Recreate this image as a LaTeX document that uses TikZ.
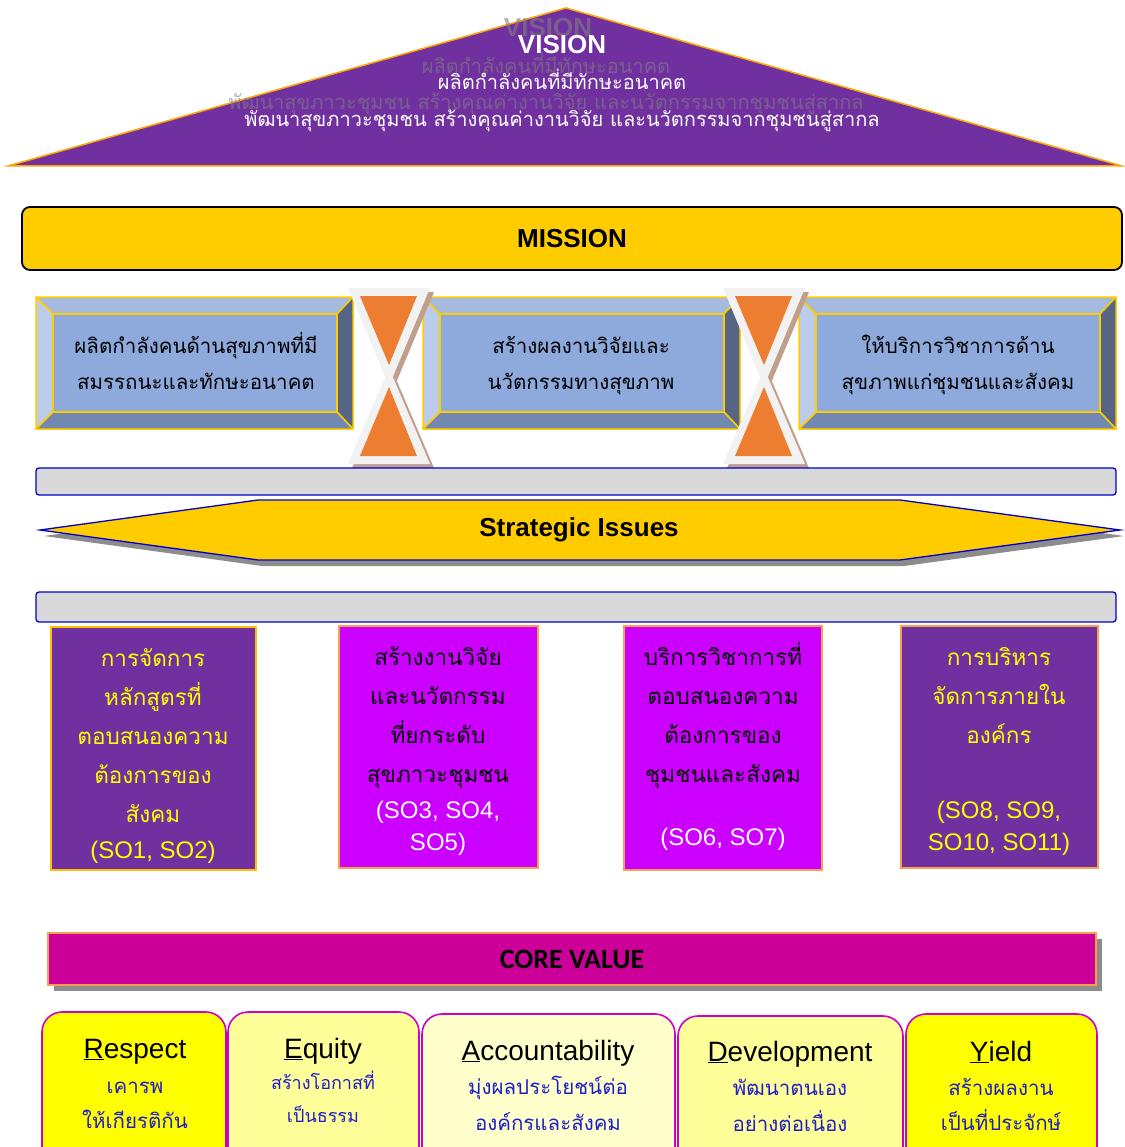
\documentclass[tikz,border=0pt]{standalone}
\usepackage{fontspec}
\setmainfont{Liberation Sans}
\newfontfamily\thaifont[Script=Thai]{Loma}
\newfontfamily\calfont{Carlito}

\definecolor{vispurple}{RGB}{112,48,160}
\definecolor{visorange}{RGB}{255,165,0}
\definecolor{misyellow}{RGB}{255,204,0}
\definecolor{bevtop}{RGB}{166,186,224}
\definecolor{bevleft}{RGB}{188,204,235}
\definecolor{bevright}{RGB}{86,101,132}
\definecolor{bevbottom}{RGB}{115,136,176}
\definecolor{bevface}{RGB}{142,169,219}
\definecolor{hgorange}{RGB}{237,125,49}
\definecolor{hgwhite}{RGB}{242,242,242}
\definecolor{hgshadow}{RGB}{192,160,140}
\definecolor{bargray}{RGB}{217,217,217}
\definecolor{barblue}{RGB}{0,0,204}
\definecolor{somagenta}{RGB}{204,0,255}
\definecolor{sogold}{RGB}{255,192,0}
\definecolor{soorange}{RGB}{248,160,80}
\definecolor{cvpink}{RGB}{204,0,153}
\definecolor{cvborder}{RGB}{204,0,204}
\definecolor{cvyellow}{RGB}{255,255,0}
\definecolor{cvlight}{RGB}{255,255,153}
\definecolor{cvpale}{RGB}{255,255,204}
\definecolor{cvblue}{RGB}{30,30,200}

\begin{document}
\begin{tikzpicture}[x=1pt,y=-1pt,
	txt/.style={anchor=base,inner sep=0pt},
	ghost/.style={txt,text=gray,text opacity=0.6},
	visthai/.style={txt,text=white,font=\thaifont\fontsize{20}{20}\selectfont},
	bigbold/.style={font=\bfseries\fontsize{26}{26}\selectfont},
	bevline/.style={draw=misyellow,line width=1.5pt,line join=round},
	misthai/.style={txt,font=\thaifont\fontsize{20.5}{20.5}\selectfont},
	bluebar/.style={rounded corners=3pt,fill=bargray,draw=barblue,line width=1.3pt},
	colthai/.style={txt,font=\thaifont\fontsize{22.5}{22.5}\selectfont},
	colso/.style={txt,font=\fontsize{24}{24}\selectfont},
	cvbox/.style={rounded corners=20pt,draw=cvborder,line width=1.6pt},
	cvhead/.style={txt,font=\fontsize{28}{28}\selectfont},
	cvthai/.style={txt,text=cvblue,font=\thaifont\fontsize{20.5}{20.5}\selectfont}
	]
	\useasboundingbox ( 0, 0 ) rectangle ( 1124, 1147 );

	% vision
	\draw [fill=vispurple,draw=visorange,line width=1.5pt] ( 8, 166 ) -- ( 566, 8 ) -- ( 1122, 166 ) -- cycle;
	\node [ghost,bigbold]	(visg) at ( 548, 37 )	{VISION};
	\node [ghost,font=\thaifont\fontsize{20}{20}\selectfont]	(vis1g) at ( 546, 74 )	{ผลิตกำลังคนที่มีทักษะอนาคต};
	\node [ghost,font=\thaifont\fontsize{20}{20}\selectfont]	(vis2g) at ( 546, 110 )	{พัฒนาสุขภาวะชุมชน สร้างคุณค่างานวิจัย และนวัตกรรมจากชุมชนสู่สากล};
	\node [txt,text=white,bigbold]	(vis) at ( 562, 54 )	{VISION};
	\node [visthai]	(vis1) at ( 562, 90 )	{ผลิตกำลังคนที่มีทักษะอนาคต};
	\node [visthai]	(vis2) at ( 562, 127 )	{พัฒนาสุขภาวะชุมชน สร้างคุณค่างานวิจัย และนวัตกรรมจากชุมชนสู่สากล};

	% mission
	\node [rounded corners=8pt,fill=misyellow,draw=black,line width=1.8pt,minimum width=1100pt,minimum height=63pt,bigbold]	(mission) at ( 572, 238.5 )	{MISSION};

	% กล่องพันธกิจ
	\foreach \x in {36,423,799} {
		\draw [bevline,fill=bevtop]	( \x, 297 ) -- ( \x+317, 297 ) -- ( \x+301, 314 ) -- ( \x+17, 314 ) -- cycle;
		\draw [bevline,fill=bevleft]	( \x, 297 ) -- ( \x+17, 314 ) -- ( \x+17, 412 ) -- ( \x, 429 ) -- cycle;
		\draw [bevline,fill=bevright]	( \x+317, 297 ) -- ( \x+317, 429 ) -- ( \x+301, 412 ) -- ( \x+301, 314 ) -- cycle;
		\draw [bevline,fill=bevbottom]	( \x, 429 ) -- ( \x+317, 429 ) -- ( \x+301, 412 ) -- ( \x+17, 412 ) -- cycle;
		\draw [bevline,fill=bevface]	( \x+17, 314 ) rectangle ( \x+301, 412 );
	}
	\node [misthai]	(m1a) at ( 196, 353 )	{ผลิตกำลังคนด้านสุขภาพที่มี};
	\node [misthai]	(m1b) at ( 196, 389 )	{สมรรถนะและทักษะอนาคต};
	\node [misthai]	(m2a) at ( 581, 353 )	{สร้างผลงานวิจัยและ};
	\node [misthai]	(m2b) at ( 581, 389 )	{นวัตกรรมทางสุขภาพ};
	\node [misthai]	(m3a) at ( 958, 353 )	{ให้บริการวิชาการด้าน};
	\node [misthai]	(m3b) at ( 958, 389 )	{สุขภาพแก่ชุมชนและสังคม};

	% นาฬิกาทราย
	\foreach \h in {389,764} {
		\fill [hgshadow]	( \h-37, 292 ) -- ( \h+45, 292 ) -- ( \h+4, 390 ) -- cycle;
		\fill [hgshadow]	( \h-37, 468 ) -- ( \h+45, 468 ) -- ( \h+4, 372 ) -- cycle;
		\fill [hgwhite]	( \h-41, 288 ) -- ( \h+41, 288 ) -- ( \h, 386 ) -- cycle;
		\fill [hgwhite]	( \h-41, 464 ) -- ( \h+41, 464 ) -- ( \h, 368 ) -- cycle;
		\fill [hgorange]	( \h-29, 296 ) -- ( \h+28, 296 ) -- ( \h, 365 ) -- cycle;
		\fill [hgorange]	( \h-29, 456 ) -- ( \h+28, 456 ) -- ( \h, 387 ) -- cycle;
	}

	% strategic issues
	\draw [bluebar]	( 36, 468 ) rectangle ( 1116, 495 );
	\fill [gray!90]	( 44, 536 ) -- ( 262, 506 ) -- ( 904, 506 ) -- ( 1124, 536 ) -- ( 904, 566 ) -- ( 262, 566 ) -- cycle;
	\draw [fill=misyellow,draw=barblue,line width=1.3pt]	( 40, 530 ) -- ( 258, 500 ) -- ( 900, 500 ) -- ( 1120, 530 ) -- ( 900, 560 ) -- ( 258, 560 ) -- cycle;
	\node [bigbold]	(si) at ( 579, 530 )	{Strategic Issues};
	\draw [bluebar]	( 36, 592 ) rectangle ( 1116, 622 );

	% ประเด็นยุทธศาสตร์ 1
	\draw [fill=vispurple,draw=sogold,line width=1.5pt]	( 51, 627 ) rectangle ( 256, 870 );
	\node [colthai,text=cvyellow]	(s1a) at ( 153, 666 )	{การจัดการ};
	\node [colthai,text=cvyellow]	(s1b) at ( 153, 705 )	{หลักสูตรที่};
	\node [colthai,text=cvyellow]	(s1c) at ( 153, 744 )	{ตอบสนองความ};
	\node [colthai,text=cvyellow]	(s1d) at ( 153, 783 )	{ต้องการของ};
	\node [colthai,text=cvyellow]	(s1e) at ( 153, 822 )	{สังคม};
	\node [colso,text=cvyellow]	(s1f) at ( 153, 858 )	{(SO1, SO2)};

	% ประเด็นยุทธศาสตร์ 2
	\draw [fill=somagenta,draw=soorange,line width=1.5pt]	( 339, 626 ) rectangle ( 538, 868 );
	\node [colthai]	(s2a) at ( 438, 665 )	{สร้างงานวิจัย};
	\node [colthai]	(s2b) at ( 438, 704 )	{และนวัตกรรม};
	\node [colthai]	(s2c) at ( 438, 743 )	{ที่ยกระดับ};
	\node [colthai]	(s2d) at ( 438, 782 )	{สุขภาวะชุมชน};
	\node [colso,text=white]	(s2e) at ( 438, 818 )	{(SO3, SO4,};
	\node [colso,text=white]	(s2f) at ( 438, 850 )	{SO5)};

	% ประเด็นยุทธศาสตร์ 3
	\draw [fill=somagenta,draw=soorange,line width=1.5pt]	( 624, 626 ) rectangle ( 822, 870 );
	\node [colthai]	(s3a) at ( 723, 665 )	{บริการวิชาการที่};
	\node [colthai]	(s3b) at ( 723, 704 )	{ตอบสนองความ};
	\node [colthai]	(s3c) at ( 723, 743 )	{ต้องการของ};
	\node [colthai]	(s3d) at ( 723, 782 )	{ชุมชนและสังคม};
	\node [colso,text=white]	(s3e) at ( 723, 845 )	{(SO6, SO7)};

	% ประเด็นยุทธศาสตร์ 4
	\draw [fill=vispurple,draw=soorange,line width=1.5pt]	( 901, 626 ) rectangle ( 1098, 868 );
	\node [colthai,text=cvyellow]	(s4a) at ( 999, 665 )	{การบริหาร};
	\node [colthai,text=cvyellow]	(s4b) at ( 999, 704 )	{จัดการภายใน};
	\node [colthai,text=cvyellow]	(s4c) at ( 999, 743 )	{องค์กร};
	\node [colso,text=cvyellow]	(s4d) at ( 999, 818 )	{(SO8, SO9,};
	\node [colso,text=cvyellow]	(s4e) at ( 999, 850 )	{SO10, SO11)};

	% core value
	\fill [gray!90]	( 54, 939 ) rectangle ( 1102, 991 );
	\node [fill=cvpink,draw=soorange,line width=1.5pt,minimum width=1048pt,minimum height=52pt,font=\calfont\bfseries\fontsize{28}{28}\selectfont]	(core) at ( 572, 959 )	{CORE VALUE};

	% ค่านิยม
	\draw [cvbox,fill=cvyellow]	( 42, 1012 ) rectangle ( 226, 1170 );
	\draw [cvbox,fill=cvlight]	( 228, 1012 ) rectangle ( 419, 1170 );
	\draw [cvbox,fill=cvpale]	( 422, 1014 ) rectangle ( 675, 1170 );
	\draw [cvbox,fill=cvlight]	( 678, 1016 ) rectangle ( 903, 1170 );
	\draw [cvbox,fill=cvyellow]	( 906, 1014 ) rectangle ( 1097, 1170 );

	\node [cvhead]	(r) at ( 135, 1058 )	{\underline{R}espect};
	\node [cvthai]	(r1) at ( 135, 1093 )	{เคารพ};
	\node [cvthai]	(r2) at ( 135, 1128 )	{ให้เกียรติกัน};

	\node [cvhead]	(e) at ( 323, 1058 )	{\underline{E}quity};
	\node [cvthai,font=\thaifont\fontsize{18}{18}\selectfont]	(e1) at ( 323, 1089 )	{สร้างโอกาสที่};
	\node [cvthai,font=\thaifont\fontsize{18}{18}\selectfont]	(e2) at ( 323, 1122 )	{เป็นธรรม};

	\node [cvhead]	(a) at ( 548, 1060 )	{\underline{A}ccountability};
	\node [cvthai]	(a1) at ( 548, 1094 )	{มุ่งผลประโยชน์ต่อ};
	\node [cvthai]	(a2) at ( 548, 1130 )	{องค์กรและสังคม};

	\node [cvhead]	(d) at ( 790, 1061 )	{\underline{D}evelopment};
	\node [cvthai]	(d1) at ( 790, 1095 )	{พัฒนาตนเอง};
	\node [cvthai]	(d2) at ( 790, 1131 )	{อย่างต่อเนื่อง};

	\node [cvhead]	(y) at ( 1001, 1061 )	{\underline{Y}ield};
	\node [cvthai]	(y1) at ( 1001, 1095 )	{สร้างผลงาน};
	\node [cvthai]	(y2) at ( 1001, 1130 )	{เป็นที่ประจักษ์};
\end{tikzpicture}
\end{document}
